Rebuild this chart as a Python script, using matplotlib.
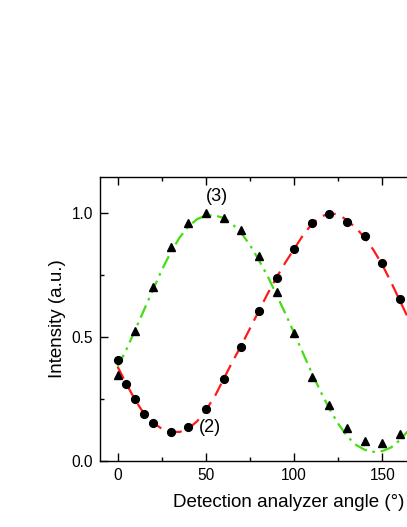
import matplotlib
matplotlib.use("Agg")
import matplotlib.pyplot as plt
from matplotlib.ticker import MultipleLocator

plt.rcParams['font.family'] = ['Liberation Sans', 'DejaVu Sans']

# measured data, series (2): circles
angle_2 = [0, 5, 10, 15, 20, 30, 40, 50, 60, 70, 80, 90, 100, 110, 120, 130, 140, 150, 160]
int_2 = [0.407, 0.312, 0.249, 0.188, 0.152, 0.118, 0.137, 0.211, 0.331, 0.461, 0.605,
         0.737, 0.856, 0.960, 0.997, 0.964, 0.907, 0.798, 0.653]

# measured data, series (3): triangles
angle_3 = [0, 10, 20, 30, 40, 50, 60, 70, 80, 90, 100, 110, 120, 130, 140, 150, 160]
int_3 = [0.348, 0.524, 0.700, 0.862, 0.958, 0.999, 0.980, 0.931, 0.827, 0.680, 0.517,
         0.340, 0.224, 0.133, 0.081, 0.071, 0.108]

# fit curves
fit_angle = [0, 5, 10, 15, 20, 25, 30, 35, 40, 45, 50, 55, 60, 65, 70, 75, 80, 85, 90,
             95, 100, 105, 110, 115, 120, 125, 130, 135, 140, 145, 150, 155, 160, 165, 170]
fit_2 = [0.38, 0.31, 0.245, 0.19, 0.155, 0.13, 0.118, 0.117, 0.13, 0.16, 0.205, 0.26,
         0.33, 0.40, 0.465, 0.535, 0.605, 0.675, 0.74, 0.80, 0.855, 0.91, 0.955, 0.985,
         0.998, 0.995, 0.97, 0.94, 0.90, 0.85, 0.79, 0.72, 0.645, 0.57, 0.49]
fit_3 = [0.38, 0.45, 0.53, 0.61, 0.69, 0.77, 0.84, 0.90, 0.945, 0.975, 0.99, 0.99, 0.98,
         0.955, 0.92, 0.87, 0.81, 0.745, 0.67, 0.595, 0.515, 0.435, 0.355, 0.28, 0.21,
         0.15, 0.10, 0.065, 0.045, 0.037, 0.04, 0.055, 0.085, 0.125, 0.175]

x_ticks = [0, 50, 100, 150]
y_ticks = [0.0, 0.5, 1.0]
y_tick_labels = ['0.0', '0.5', '1.0']

fig = plt.figure(figsize=(4.07, 5.27), dpi=100)
ax = fig.add_axes([100 / 407, 66 / 527, 353 / 407, 284 / 527])

ax.plot(fit_angle, fit_2, color='#ff1a1a', lw=1.6, dashes=(6, 3.5), zorder=2)
ax.plot(fit_angle, fit_3, color='#44dd11', lw=1.6, dashes=(6, 2.5, 1.2, 2.5), zorder=2)
ax.plot(angle_2, int_2, 'o', color='black', ms=5.6, zorder=3)
ax.plot(angle_3, int_3, '^', color='black', ms=6.0, zorder=3)

ax.set_xlim(-10, 190)
ax.set_ylim(0, 1.145)
ax.set_xticks(x_ticks)
ax.set_yticks(y_ticks)
ax.set_yticklabels(y_tick_labels)
ax.xaxis.set_minor_locator(MultipleLocator(25))
ax.yaxis.set_minor_locator(MultipleLocator(0.25))
ax.tick_params(which='both', direction='in', top=True, right=True, labelsize=11.2, pad=5)
ax.tick_params(which='major', length=5.5, width=1)
ax.tick_params(which='minor', length=3, width=1)
for s in ax.spines.values():
    s.set_linewidth(1.0)

ax.set_xlabel('Detection analyzer angle (°)', fontsize=13.5)
ax.xaxis.set_label_coords((173 - 100) / 353, -0.115)
ax.xaxis.label.set_ha('left')
ax.set_ylabel('Intensity (a.u.)', fontsize=13.5)
ax.yaxis.set_label_coords(-(100 - 57) / 353, 0.5)
ax.yaxis.label.set_va('center')

ax.text(56.4, 1.066, '(3)', fontsize=13, ha='center', va='center')
ax.text(52.4, 0.136, '(2)', fontsize=13, ha='center', va='center')

fig.savefig('out.png', dpi=100)
